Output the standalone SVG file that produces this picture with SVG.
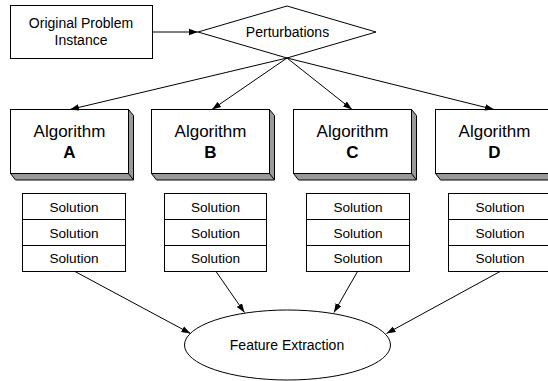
<svg xmlns="http://www.w3.org/2000/svg" width="548" height="381" viewBox="0 0 548 381">
<style>
.ln{stroke:#000;stroke-width:1;fill:none}
.box{fill:#fff;stroke:#000;stroke-width:1}
.ext{fill:#999;stroke:#000;stroke-width:1;stroke-linejoin:miter}
.t{font-family:"Liberation Sans",Arial,sans-serif;fill:#000;text-anchor:middle}
.s14{font-size:14px}
.s13{font-size:13.6px}
.alg{font-size:17px}
.b{font-weight:bold;font-size:17px}
</style>
<defs>
<marker id="ah" markerWidth="10" markerHeight="8" refX="9" refY="4" orient="auto" markerUnits="userSpaceOnUse">
<path d="M0,0.8 L9,4 L0,7.2 Z" fill="#000"/>
</marker>
</defs>
<rect width="548" height="381" fill="#fff"/>
<g id="original">
<rect class="box" x="10.5" y="5.5" width="142" height="53"/>
<text class="t s14" x="81" y="28">Original Problem</text>
<text class="t s14" x="81" y="45">Instance</text>
</g>
<g id="perturbations">
<polygon class="box" points="198,32 287,6 376,32 287,58"/>
<text class="t s14" x="287.5" y="37">Perturbations</text>
</g>
<g id="algA">
<polygon class="ext" points="128.5,109.5 133.5,115.5 133.5,180 15.5,180 10.5,173.5 128.5,173.5"/>
<line class="ln" x1="128.5" y1="173.5" x2="133.5" y2="180"/>
<rect class="box" x="10.5" y="109.5" width="118" height="64"/>
<text class="t alg" x="69.5" y="137">Algorithm</text>
<text class="t b" x="69.5" y="158">A</text>
</g>
<g id="algB">
<polygon class="ext" points="269.5,109.5 274.5,115.5 274.5,180 156.5,180 151.5,173.5 269.5,173.5"/>
<line class="ln" x1="269.5" y1="173.5" x2="274.5" y2="180"/>
<rect class="box" x="151.5" y="109.5" width="118" height="64"/>
<text class="t alg" x="210.5" y="137">Algorithm</text>
<text class="t b" x="210.5" y="158">B</text>
</g>
<g id="algC">
<polygon class="ext" points="411.5,109.5 416.5,115.5 416.5,180 298.5,180 293.5,173.5 411.5,173.5"/>
<line class="ln" x1="411.5" y1="173.5" x2="416.5" y2="180"/>
<rect class="box" x="293.5" y="109.5" width="118" height="64"/>
<text class="t alg" x="352.5" y="137">Algorithm</text>
<text class="t b" x="352.5" y="158">C</text>
</g>
<g id="algD">
<polygon class="ext" points="553.5,109.5 558.5,115.5 558.5,180 440.5,180 435.5,173.5 553.5,173.5"/>
<line class="ln" x1="553.5" y1="173.5" x2="558.5" y2="180"/>
<rect class="box" x="435.5" y="109.5" width="118" height="64"/>
<text class="t alg" x="494.5" y="137">Algorithm</text>
<text class="t b" x="494.5" y="158">D</text>
</g>
<g id="solA">
<rect class="box" x="22.5" y="193.5" width="103" height="26"/>
<rect class="box" x="22.5" y="219.5" width="103" height="26"/>
<rect class="box" x="22.5" y="245.5" width="103" height="26"/>
<text class="t s13" x="74" y="211.5">Solution</text>
<text class="t s13" x="74" y="237.5">Solution</text>
<text class="t s13" x="74" y="263">Solution</text>
</g>
<g id="solB">
<rect class="box" x="164.5" y="193.5" width="102" height="26"/>
<rect class="box" x="164.5" y="219.5" width="102" height="26"/>
<rect class="box" x="164.5" y="245.5" width="102" height="26"/>
<text class="t s13" x="215.5" y="211.5">Solution</text>
<text class="t s13" x="215.5" y="237.5">Solution</text>
<text class="t s13" x="215.5" y="263">Solution</text>
</g>
<g id="solC">
<rect class="box" x="306.5" y="193.5" width="103" height="26"/>
<rect class="box" x="306.5" y="219.5" width="103" height="26"/>
<rect class="box" x="306.5" y="245.5" width="103" height="26"/>
<text class="t s13" x="358" y="211.5">Solution</text>
<text class="t s13" x="358" y="237.5">Solution</text>
<text class="t s13" x="358" y="263">Solution</text>
</g>
<g id="solD">
<rect class="box" x="448.5" y="193.5" width="103" height="26"/>
<rect class="box" x="448.5" y="219.5" width="103" height="26"/>
<rect class="box" x="448.5" y="245.5" width="103" height="26"/>
<text class="t s13" x="500" y="211.5">Solution</text>
<text class="t s13" x="500" y="237.5">Solution</text>
<text class="t s13" x="500" y="263">Solution</text>
</g>
<g id="feature">
<ellipse class="box" cx="287.5" cy="345" rx="103" ry="35"/>
<text class="t s14" x="287" y="350">Feature Extraction</text>
</g>
<g id="connectors">
<line class="ln" x1="152.5" y1="32" x2="198" y2="32" marker-end="url(#ah)"/>
<line class="ln" x1="287" y1="58" x2="70" y2="109.5" marker-end="url(#ah)"/>
<line class="ln" x1="287" y1="58" x2="212" y2="109.5" marker-end="url(#ah)"/>
<line class="ln" x1="287" y1="58" x2="352" y2="109.5" marker-end="url(#ah)"/>
<line class="ln" x1="287" y1="58" x2="494" y2="109.5" marker-end="url(#ah)"/>
<line class="ln" x1="75" y1="271.5" x2="190.5" y2="333.5" marker-end="url(#ah)"/>
<line class="ln" x1="216" y1="271.5" x2="244.5" y2="312.5" marker-end="url(#ah)"/>
<line class="ln" x1="357.5" y1="271.5" x2="334" y2="312.5" marker-end="url(#ah)"/>
<line class="ln" x1="500" y1="271.5" x2="386.5" y2="333.5" marker-end="url(#ah)"/>
</g>
</svg>
